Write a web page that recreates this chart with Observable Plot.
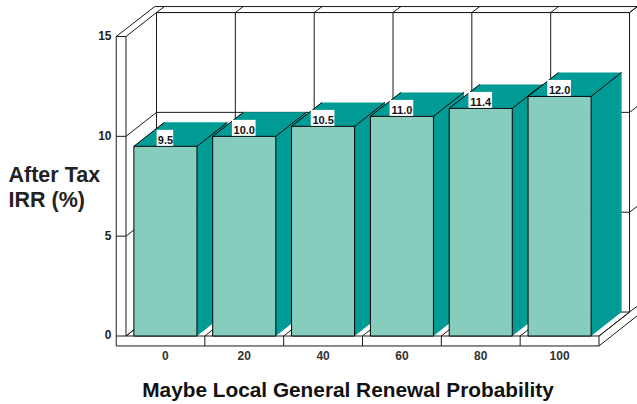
<!DOCTYPE html>
<html>
<head>
<meta charset="utf-8">
<script src="https://cdn.jsdelivr.net/npm/d3@7"></script>
<script src="https://cdn.jsdelivr.net/npm/@observablehq/plot@0.6"></script>
<style>
  html, body { margin: 0; padding: 0; background: #fff; }
  svg { display: block; }
</style>
</head>
<body>
<div id="chart"></div>
<script>
// Chart values
const categories = [0, 20, 40, 60, 80, 100];
const values = [9.5, 10.0, 10.5, 11.0, 11.4, 12.0];
const valueLabels = ["9.5", "10.0", "10.5", "11.0", "11.4", "12.0"];
const yTicks = [0, 5, 10, 15];
const xTitle = "Maybe Local General Renewal Probability";
const yTitle = "After Tax\nIRR (%)";

// Oblique projection, expressed in scale units: category slots on x, IRR on y
const depthX = 0.387, depthY = 1.2;
const barHalf = 0.4;
const left = -0.5, right = 5.5, yMax = 15;
const back = (x, y) => ({x: x + depthX, y: y + depthY});

const ink = "#1a1a1a", frontFill = "#87cdbd", sideFill = "#009b95";

// Walls, floor and frame of the 3D box
const seg = (x1, y1, x2, y2) => ({x1, y1, x2, y2});
const box = [];
const lipX = -0.124, lipY = -0.5;      // outer lip of the left wall and the floor
const topY = 16.5, topX = -0.135;      // outer top edge
const farX = 5.99, stepX = 0.1, stepY = 0.3;
box.push(seg(left + lipX, yMax, left + lipX, lipY));
box.push(seg(left + lipX, lipY, right, lipY));
box.push(seg(right, lipY, right, 0));
box.push(seg(right, lipY, farX, 1.03));
box.push(seg(left + lipX, yMax, topX, topY));
box.push(seg(topX, topY, farX, topY));
box.push(seg(left, 0, left, yMax));
box.push(seg(left, 0, right, 0));
box.push(seg(right, 0, right + depthX, depthY));
box.push(seg(right + depthX, depthY, right + depthX, yMax + depthY));
box.push(seg(farX, 1.03, farX, topY));
box.push(seg(left + depthX, yMax + depthY, right + depthX, yMax + depthY));
for (const t of yTicks) {
  box.push(seg(left + lipX, t, left, t));
  box.push(seg(left, t, left + depthX, t + depthY));
  box.push(seg(left + depthX, t + depthY, right + depthX, t + depthY));
  box.push(seg(right + depthX, t + depthY, right + depthX + stepX, t + depthY + stepY));
}
for (let k = 0; k <= categories.length; k++) {
  const x = left + k;
  if (k > 0 && k < categories.length) box.push(seg(x, lipY, x, 0));
  box.push(seg(x, 0, x + depthX, depthY));
  box.push(seg(x + depthX, depthY, x + depthX, yMax + depthY));
  box.push(seg(x + depthX, yMax + depthY, x + depthX + stepX, yMax + depthY + stepY));
}

// One filled polygon per bar face, listed back to front and left to right
const faces = [];
const edges = [];
categories.forEach((c, i) => {
  const v = values[i], x0 = i - barHalf, x1 = i + barHalf;
  const add = (name, fill, pts) => pts.forEach(p => faces.push({...p, face: `${i}-${name}`, fill}));
  add("side", sideFill, [{x: x1, y: 0}, {x: x1, y: v}, back(x1, v), back(x1, 0)]);
  add("top", sideFill, [{x: x0, y: v}, {x: x1, y: v}, back(x1, v), back(x0, v)]);
  add("front", frontFill, [{x: x0, y: 0}, {x: x1, y: 0}, {x: x1, y: v}, {x: x0, y: v}]);
  const e = (a, b) => edges.push({bar: i, x1: a.x, y1: a.y, x2: b.x, y2: b.y});
  e({x: x0, y: 0}, {x: x1, y: 0});
  e({x: x0, y: 0}, {x: x0, y: v});
  e({x: x1, y: 0}, {x: x1, y: v});
  e({x: x0, y: v}, {x: x1, y: v});
  e({x: x0, y: v}, back(x0, v));
  e({x: x1, y: v}, back(x1, v));
});

// Each bar's faces and outline are layered in order so later bars hide earlier ones
const barMarks = categories.flatMap((c, i) => [
  Plot.line(faces.filter(f => f.face.startsWith(`${i}-`)), {
    x: "x", y: "y", z: "face", fill: "fill", stroke: null, curve: "linear-closed"
  }),
  Plot.link(edges.filter(e => e.bar === i), {
    x1: "x1", y1: "y1", x2: "x2", y2: "y2", stroke: "#000", strokeWidth: 1
  })
]);

// Value tags sit on the front edge of each bar's top face
const tags = values.map((v, i) => ({i, v, label: valueLabels[i]}));
const tagHalf = d => d.label.length === 3 ? 0.105 : 0.15;

const chart = Plot.plot({
  width: 637,
  height: 404,
  marginLeft: 125.5,
  marginRight: 38.5,
  marginTop: 36,
  marginBottom: 68.5,
  x: {domain: [left, right]},
  y: {domain: [0, yMax]},
  color: {type: "identity"},
  style: {fontFamily: "'Liberation Sans', Arial, sans-serif", background: "#fff", overflow: "visible"},
  marks: [
    Plot.link(box, {x1: "x1", y1: "y1", x2: "x2", y2: "y2", stroke: ink, strokeWidth: 1}),
    ...barMarks,
    Plot.rect(tags, {
      x1: d => d.i - tagHalf(d), x2: d => d.i + tagHalf(d),
      y1: d => d.v, y2: d => d.v + 0.8, fill: "#fff", inset: 0
    }),
    Plot.text(tags, {
      x: "i", y: d => d.v + 0.3, text: "label",
      fontSize: 11, fontWeight: "bold", fill: "#111"
    }),
    Plot.axisY({
      ticks: yTicks, tickSize: 0, tickPadding: 14.5, label: null, dy: -0.5,
      fontSize: 12, fontWeight: "bold", fill: "#222"
    }),
    Plot.axisX({
      ticks: categories.map((c, i) => i), tickFormat: i => categories[i],
      tickSize: 0, tickPadding: 15.5, label: null, anchor: "bottom",
      fontSize: 12, fontWeight: "bold", fill: "#333"
    }),
    Plot.text([xTitle], {
      frameAnchor: "bottom", dx: -14.5, dy: 60.5, text: d => d,
      fontSize: 20.8, fontWeight: "bold", fill: "#111"
    }),
    Plot.text([yTitle], {
      frameAnchor: "left", dx: -117.5, dy: 0.5, text: d => d, textAnchor: "start",
      fontSize: 21.5, lineHeight: 1.17, fontWeight: "bold", fill: "#222"
    })
  ]
});
document.getElementById("chart").appendChild(chart);
</script>
</body>
</html>
